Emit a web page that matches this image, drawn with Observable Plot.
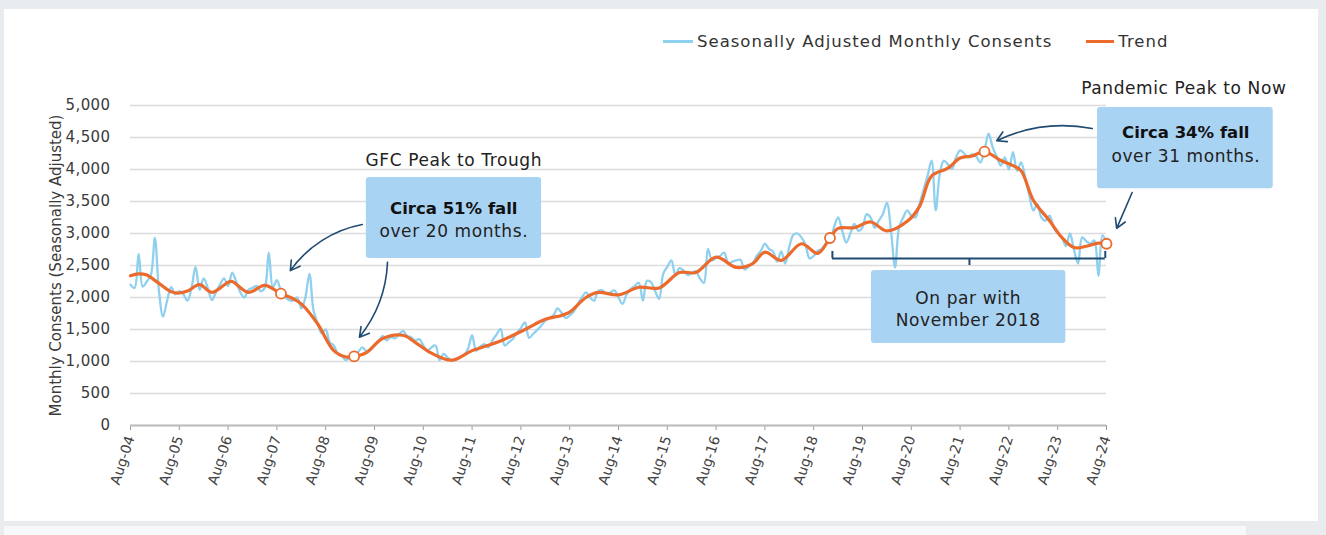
<!DOCTYPE html>
<html>
<head>
<meta charset="utf-8">
<script src="https://cdn.jsdelivr.net/npm/d3@7"></script>
<script src="https://cdn.jsdelivr.net/npm/@observablehq/plot@0.6"></script>
<style>
  html, body { margin: 0; padding: 0; }
  body { width: 1326px; height: 535px; background: #e8ecef; position: relative; overflow: hidden; font-family: "DejaVu Sans", sans-serif; }
  #card { position: absolute; left: 4px; top: 9px; width: 1314px; height: 512px; background: #ffffff; }
  #card2 { position: absolute; left: 4px; top: 526px; width: 1242px; height: 12px; background: #f7f8f9; }
  #chart { position: absolute; left: 0; top: 0; }
  #legend { position: absolute; top: 32px; left: 663px; font-size: 16.5px; letter-spacing: 1px; color: #333; display: flex; align-items: center; white-space: nowrap; }
  .sw { display: inline-block; width: 30px; height: 3px; margin-right: 4px; }
  .ann text { letter-spacing: 0.6px; }
  .axl text { letter-spacing: 0.4px; }
</style>
</head>
<body>
<div id="card"></div>
<div id="card2"></div>
<div id="chart"></div>
<div id="legend">
  <span class="sw" style="background:#8fd0ee"></span><span>Seasonally Adjusted Monthly Consents</span>
  <span class="sw" style="background:#ec6a2c; margin-left:34px; width:28px"></span><span>Trend</span>
</div>
<script>
// x tick labels (every August, 2004-2024)
const xTickLabels = ["Aug-04","Aug-05","Aug-06","Aug-07","Aug-08","Aug-09","Aug-10","Aug-11","Aug-12","Aug-13","Aug-14","Aug-15","Aug-16","Aug-17","Aug-18","Aug-19","Aug-20","Aug-21","Aug-22","Aug-23","Aug-24"];
const yTicks = [0,500,1000,1500,2000,2500,3000,3500,4000,4500,5000];

// Seasonally adjusted monthly consents, Aug-04 .. Aug-24 (one value per month)
const saValues = [
  2200,2150,2680,2170,2250,2350,2930,2100,1700,1950,2160,2050,
  2100,2050,1950,2150,2480,2120,2300,2150,1960,2080,2200,2300,
  2180,2390,2250,2080,2000,2120,2150,2180,2100,2150,2700,2160,
  2270,2100,2000,1960,1950,2000,1830,2000,2370,1800,1600,1440,
  1500,1300,1250,1120,1080,1020,1080,1100,1150,1220,1160,1180,
  1250,1320,1400,1330,1380,1360,1420,1480,1400,1380,1330,1350,
  1250,1170,1220,1250,1020,1120,1060,1020,1030,1070,1100,1200,
  1410,1170,1230,1270,1220,1330,1420,1510,1250,1300,1350,1450,
  1520,1610,1370,1430,1490,1560,1640,1680,1720,1830,1760,1680,
  1720,1780,1900,2000,2080,2000,1950,2100,2110,2060,2080,2110,
  2000,1900,2050,2130,2180,2230,1950,2260,2240,2100,1980,2370,
  2480,2580,2350,2460,2420,2350,2380,2410,2300,2230,2760,2580,
  2620,2650,2700,2530,2560,2580,2590,2440,2480,2530,2650,2730,
  2840,2760,2720,2560,2720,2530,2790,2980,3000,2940,2820,2610,
  2650,2730,2760,2840,2880,3100,3250,3050,2860,3000,3150,3040,
  3100,3300,3250,3090,3200,3300,3480,3050,2470,3100,3250,3360,
  3280,3250,3460,3680,3900,4140,3360,3930,4140,4080,4010,4190,
  4300,4250,4190,4240,4200,4110,4300,4560,4350,4200,4060,4190,
  4000,4270,3980,4110,3880,3600,3360,3460,3250,3200,3280,3090,
  3000,2950,2800,3000,2750,2530,2940,2880,2840,2890,2340,2970,
  2850
];

// Trend series read at selected months (months since Aug-04)
const trendMonths = [0,2,4,7,10,12,14,17,20,24,25,29,33,37,40,42,46,50,53,55,58,62,67,70,74,79,84,91,97,102,106,108,112,115,120,125,130,135,139,144,149,153,156,160,165,169,172,174,178,182,186,191,194,197,201,204,207,210,214,217,219,222,226,229,232,235,238,240];
const trendValues = [2340,2370,2350,2220,2090,2070,2100,2200,2080,2240,2250,2080,2190,2060,1980,1900,1590,1170,1070,1080,1140,1360,1410,1300,1130,1020,1170,1320,1500,1660,1720,1770,2000,2080,2040,2160,2150,2390,2390,2630,2470,2530,2710,2580,2840,2690,2930,3080,3090,3180,3040,3190,3420,3900,4020,4180,4210,4280,4140,4060,3980,3520,3200,2940,2780,2800,2850,2840];

// highlighted trend points (months since Aug-04)
const markerMonths = [37, 55, 172, 210, 240];

const sa = saValues.map((v, i) => ({m: i, v}));
const trend = trendMonths.map((m, i) => ({m, v: trendValues[i]}));
const markers = markerMonths.map(m => trend.find(d => d.m === m));

const navy = "#1f4a72";
const boxFill = "#a9d3f3";
const font = "'DejaVu Sans', sans-serif";

const boxes = [
  {x1: 58, x2: 101.1, y1: 2610, y2: 3875},
  {x1: 237.8, x2: 281, y1: 3700, y2: 4970},
  {x1: 182.2, x2: 230, y1: 1280, y2: 2420}
];
const boldTexts = [
  {m: 79.5, v: 3390, t: "Circa 51% fall"},
  {m: 259.5, v: 4580, t: "Circa 34% fall"}
];
const plainTexts = [
  {m: 79.5, v: 3030, t: "over 20 months."},
  {m: 259.5, v: 4210, t: "over 31 months."},
  {m: 206, v: 1990, t: "On par with"},
  {m: 206, v: 1640, t: "November 2018"},
  {m: 79.5, v: 4140, t: "GFC Peak to Trough"},
  {m: 259, v: 5260, t: "Pandemic Peak to Now"}
];
const arrowOpts = {stroke: navy, strokeWidth: 1.6, headLength: 10};

const chart = Plot.plot({
  width: 1326,
  height: 535,
  marginTop: 105,
  marginBottom: 110,
  marginLeft: 130,
  marginRight: 220,
  x: {type: "linear", domain: [0, 240]},
  y: {domain: [0, 5000]},
  style: {background: "transparent", fontFamily: font, overflow: "visible"},
  marks: [
    Plot.gridY(yTicks, {stroke: "#dcdcdc", strokeOpacity: 1, strokeWidth: 1.5}),
    Plot.axisY(yTicks, {tickSize: 0, tickPadding: 20, tickFormat: d3.format(","), fontSize: 15, color: "#3a3a3a", className: "axl",
      label: "Monthly Consents (Seasonally Adjusted)", labelAnchor: "center", labelArrow: "none", labelOffset: 80}),
    Plot.axisX(d3.range(0, 241, 12), {tickFormat: (d) => xTickLabels[d / 12], tickRotate: -72, tickSize: 5,
      tickPadding: 6, fontSize: 14, color: "#444", stroke: "#999", label: null}),
    Plot.ruleY([0], {stroke: "#bdbdbd", strokeWidth: 2}),
    Plot.line(sa, {x: "m", y: "v", stroke: "#8fd0ee", strokeWidth: 2.3, curve: "catmull-rom"}),
    Plot.line(trend, {x: "m", y: "v", stroke: "#ec6a2c", strokeWidth: 3.2, curve: "catmull-rom"}),
    Plot.dot(markers, {x: "m", y: "v", r: 5, fill: "white", stroke: "#ec6a2c", strokeWidth: 1.8}),
    // bracket under the recent period
    Plot.ruleY([2610], {x1: 172.6, x2: 239.7, stroke: navy, strokeWidth: 2}),
    Plot.ruleX([172.6, 239.7], {y1: 2610, y2: 2720, stroke: navy, strokeWidth: 2}),
    Plot.ruleX([206.3], {y1: 2610, y2: 2500, stroke: navy, strokeWidth: 2}),
    // annotation boxes
    Plot.rect(boxes, {x1: "x1", x2: "x2", y1: "y1", y2: "y2", fill: boxFill, rx: 3}),
    // curved arrows
    Plot.arrow([{}], {x1: 57, y1: 3140, x2: 39.3, y2: 2420, bend: -22, ...arrowOpts}),
    Plot.arrow([{}], {x1: 63.2, y1: 2550, x2: 56.3, y2: 1380, bend: 18, ...arrowOpts}),
    Plot.arrow([{}], {x1: 236.5, y1: 4640, x2: 213, y2: 4450, bend: -18, ...arrowOpts}),
    Plot.arrow([{}], {x1: 246.3, y1: 3640, x2: 242.5, y2: 3080, bend: 0, ...arrowOpts}),
    Plot.text(boldTexts, {x: "m", y: "v", text: "t", fontWeight: "bold", fontSize: 16.5, fill: "#111"}),
    Plot.text(plainTexts, {x: "m", y: "v", text: "t", fontSize: 17, fill: "#222", className: "ann"})
  ]
});
document.getElementById("chart").appendChild(chart);
</script>
</body>
</html>
